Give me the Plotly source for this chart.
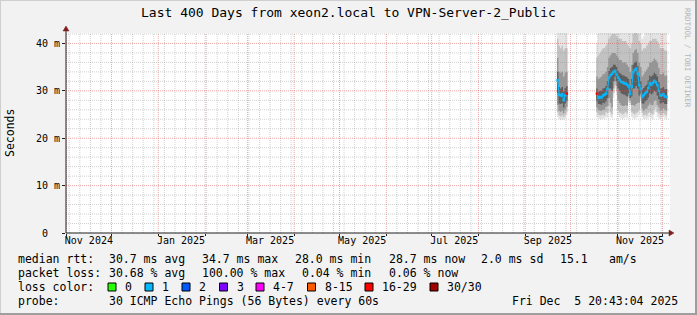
import plotly.graph_objects as go
from datetime import datetime, timedelta

# ---------------- data ----------------
days = [
    "2025-09-22", "2025-09-23", "2025-09-24", "2025-09-25", "2025-09-26", "2025-09-27", "2025-09-28",
    "2025-10-18", "2025-10-19", "2025-10-20", "2025-10-21", "2025-10-22", "2025-10-23", "2025-10-24",
    "2025-10-25", "2025-10-26", "2025-10-27", "2025-10-28", "2025-10-29", "2025-10-30", "2025-10-31",
    "2025-11-01", "2025-11-02", "2025-11-03", "2025-11-04", "2025-11-05", "2025-11-06", "2025-11-07",
    "2025-11-08", "2025-11-09", "2025-11-10", "2025-11-11", "2025-11-12", "2025-11-13", "2025-11-14",
    "2025-11-15", "2025-11-16", "2025-11-17", "2025-11-18", "2025-11-19", "2025-11-20", "2025-11-21",
    "2025-11-22", "2025-11-23", "2025-11-24", "2025-11-25", "2025-11-26", "2025-11-27", "2025-11-28",
    "2025-11-29", "2025-11-30", "2025-12-01", "2025-12-02", "2025-12-03",
]

median_ms = [
    32.2, 29.2, 29.0, 29.3, 28.0, 29.1, 29.4,
    29.4, 28.5, 28.7, 28.6, 29.0, 29.2, 29.4, 30.4, 32.8, 33.3, 33.6, 34.0, 34.2, 33.4,
    32.8, 32.3, 31.9, 31.8, 31.6, 31.5, 31.3, 30.9, 29.3, 30.9, 33.9, 34.4, 34.7, 33.6, 31.2,
    30.4, 28.7, 29.1, 29.5, 29.8, 30.6, 31.6, 31.3, 31.7, 32.1, 31.8, 31.2, 30.0, 29.0, 29.1,
    29.3, 28.8, 28.7,
]

loss_pct = [
    0.08, 0.05, 0.06, 0.05, 0.07, 0.06, 62.0,
    58.0, 0.07, 0.05, 0.04, 0.06, 0.05, 0.08, 0.06, 0.05, 0.07, 0.06, 0.05, 0.04, 0.06,
    0.05, 0.06, 0.07, 0.05, 0.04, 0.06, 0.05, 0.08, 0.06, 0.05, 0.07, 0.06, 0.05, 0.04, 0.06,
    0.05, 0.06, 0.07, 0.05, 0.04, 0.06, 0.05, 0.06, 0.05, 0.07, 0.06, 0.05, 0.04, 0.06, 0.05,
    0.06, 0.05, 0.06,
]

# smoke bands (ms): outer -> inner, lower and upper edges
smoke_lo = [
    24.5, 24.0, 23.8, 24.0, 23.8, 24.2, 24.8,
    24.5, 24.2, 24.0, 24.0, 24.2, 24.0, 24.5, 24.3, 25.5, 24.5, 24.2, 28.5, 30.5, 29.0,
    25.0, 24.5, 24.2, 24.0, 24.2, 24.5, 24.2, 27.5, 27.0, 24.5, 24.2, 24.0, 24.3, 24.5, 25.0,
    28.0, 24.5, 24.0, 24.2, 24.0, 24.3, 24.5, 24.2, 24.0, 25.0, 25.5, 24.5, 24.2, 24.0, 24.3,
    24.5, 24.2, 24.0,
]
smoke_l2 = [
    25.5, 24.8, 24.6, 24.8, 24.5, 25.0, 25.6,
    25.5, 25.0, 24.8, 24.8, 25.0, 24.8, 25.5, 25.3, 26.8, 25.5, 25.0, 29.5, 31.2, 30.0,
    26.0, 25.5, 25.2, 25.0, 25.2, 25.5, 25.2, 28.2, 27.5, 25.5, 25.2, 25.0, 25.3, 25.5, 26.0,
    28.5, 25.3, 24.8, 25.0, 24.8, 25.3, 25.5, 25.2, 25.0, 26.0, 26.5, 25.5, 25.2, 24.8, 25.0,
    25.3, 25.0, 24.8,
]
smoke_l3 = [
    27.0, 25.8, 25.6, 25.8, 25.3, 26.0, 26.6,
    26.5, 26.0, 25.8, 25.8, 26.0, 26.0, 26.6, 26.8, 28.5, 27.5, 26.5, 30.5, 32.0, 31.0,
    28.0, 27.5, 27.0, 26.8, 26.8, 27.0, 26.8, 28.8, 28.0, 27.0, 27.0, 26.8, 27.2, 27.5, 27.5,
    29.0, 26.2, 25.8, 26.2, 26.2, 26.8, 27.3, 27.0, 27.0, 27.8, 28.0, 27.0, 26.5, 25.8, 26.0,
    26.3, 26.0, 25.8,
]
smoke_l4 = [
    29.5, 27.3, 27.2, 27.4, 26.5, 27.3, 27.8,
    27.8, 27.2, 27.2, 27.0, 27.5, 27.4, 27.8, 28.5, 30.5, 30.5, 30.0, 32.0, 33.0, 32.0,
    30.5, 30.0, 29.5, 29.3, 29.2, 29.0, 28.8, 29.5, 28.5, 28.8, 30.5, 30.5, 31.0, 30.5, 29.0,
    29.5, 27.3, 27.3, 27.8, 28.0, 28.6, 29.5, 29.2, 29.5, 30.0, 29.8, 29.0, 28.2, 27.3, 27.4,
    27.6, 27.2, 27.2,
]
smoke_h4 = [
    34.0, 30.8, 30.5, 30.8, 29.8, 30.6, 31.0,
    30.5, 29.8, 30.0, 30.0, 30.5, 30.6, 31.0, 32.0, 34.2, 34.8, 35.0, 35.5, 35.5, 35.0,
    34.2, 33.8, 33.5, 33.3, 33.2, 33.0, 32.8, 32.5, 31.0, 32.5, 35.5, 36.0, 36.2, 35.2, 33.0,
    32.0, 30.2, 30.6, 31.0, 31.3, 32.2, 33.2, 33.0, 33.3, 33.8, 33.5, 33.0, 31.8, 30.5, 30.6,
    30.8, 30.3, 30.4,
]
smoke_h3 = [
    37.0, 34.0, 33.8, 34.0, 33.0, 33.8, 34.0,
    33.0, 32.5, 32.8, 33.0, 33.5, 33.6, 34.0, 35.0, 37.0, 37.5, 38.0, 38.0, 38.0, 37.5,
    37.0, 36.5, 36.5, 36.0, 36.0, 36.0, 35.5, 35.0, 34.0, 35.5, 38.0, 38.5, 38.8, 38.0, 36.0,
    35.0, 33.0, 33.5, 34.0, 34.5, 35.0, 36.0, 36.0, 36.3, 36.8, 36.5, 36.0, 34.8, 33.5, 33.5,
    33.8, 33.2, 33.3,
]
smoke_h2 = [
    41.0, 39.5, 39.0, 39.5, 38.5, 39.0, 39.0,
    37.0, 37.5, 38.0, 38.5, 39.0, 39.0, 39.5, 40.0, 41.0, 41.5, 42.0, 42.0, 42.0, 41.5,
    41.0, 41.0, 41.0, 40.5, 40.5, 40.5, 40.0, 39.5, 39.0, 40.0, 42.0, 42.5, 42.5, 42.0, 40.5,
    40.0, 38.5, 39.0, 39.0, 39.5, 40.0, 40.5, 40.5, 41.0, 41.0, 41.0, 40.5, 40.0, 39.0, 39.0,
    39.0, 38.5, 38.5,
]
smoke_hi = [
    44.0, 44.0, 44.0, 44.0, 44.0, 44.0, 44.0,
    40.0, 44.0, 44.0, 44.0, 44.0, 44.0, 44.0, 44.0, 44.0, 44.0, 44.0, 44.0, 44.0, 44.0,
    44.0, 44.0, 44.0, 44.0, 44.0, 44.0, 44.0, 44.0, 44.0, 44.0, 44.0, 44.0, 44.0, 44.0, 44.0,
    44.0, 41.0, 41.5, 44.0, 44.0, 44.0, 44.0, 44.0, 44.0, 44.0, 44.0, 44.0, 44.0, 44.0, 44.0,
    44.0, 44.0, 44.0,
]

loss_buckets = ["0", "1", "2", "3", "4-7", "8-15", "16-29", "30/30"]
loss_upper = [0, 1, 2, 3, 7, 15, 29, 30]          # pings out of 30
loss_colors = ["#26ff00", "#00b8ff", "#0059ff", "#7e00ff", "#ff00ff", "#ff5a00", "#ff0000", "#a00000"]

x_label_dates = ["2024-11-16", "2025-01-16", "2025-03-16", "2025-05-16", "2025-07-16", "2025-09-16", "2025-11-16"]
x_label_text = ["Nov 2024", "Jan 2025", "Mar 2025", "May 2025", "Jul 2025", "Sep 2025", "Nov 2025"]
y_tick_vals = [0, 10, 20, 30, 40]
y_tick_text = ["0\u00a0\u00a0", "10 m", "20 m", "30 m", "40 m"]

title = "Last 400 Days from xeon2.local to VPN-Server-2_Public"
range_start = "2024-10-31 20:43:04"
range_end = "2025-12-05 20:43:04"

# ---------------- layout helpers ----------------
W, H = 697, 315
PL, PR, PT, PB = 66, 670, 33, 233
Y_MAX = 42.2
FONT = "DejaVu Sans Mono"


def xp(px):
    return (px - PL) / (PR - PL)


def yp(py):
    return (PB - py) / (PB - PT)


def nb(s):
    return s.replace(" ", "\u00a0")


dts = [datetime.strptime(d, "%Y-%m-%d") for d in days]

# split into contiguous segments
segments = []
cur = [0]
for i in range(1, len(dts)):
    if (dts[i] - dts[i - 1]).days > 1:
        segments.append(cur)
        cur = []
    cur.append(i)
segments.append(cur)

fig = go.Figure()

band_defs = [
    (smoke_lo, smoke_hi, "#e4e4e4"),
    (smoke_l2, smoke_h2, "#c2c2c2"),
    (smoke_l3, smoke_h3, "#969696"),
    (smoke_l4, smoke_h4, "#5e5e5e"),
]

for seg in segments:
    xs = [dts[i] for i in seg] + [dts[seg[-1]] + timedelta(days=1)]
    for lo, hi, col in band_defs:
        ylo = [lo[i] for i in seg] + [lo[seg[-1]]]
        yhi = [hi[i] for i in seg] + [hi[seg[-1]]]
        fig.add_trace(go.Scatter(x=xs, y=ylo, mode="lines", line=dict(width=0, shape="hv"),
                                 hoverinfo="skip", showlegend=False))
        fig.add_trace(go.Scatter(x=xs, y=yhi, mode="lines", line=dict(width=0, shape="hv"),
                                 fill="tonexty", fillcolor=col, hoverinfo="skip", showlegend=False))

# median line
for seg in segments:
    xm = [dts[i] + timedelta(hours=12) for i in seg]
    ym = [median_ms[i] for i in seg]
    fig.add_trace(go.Scatter(x=xm, y=ym, mode="lines", line=dict(color="#00b8ff", width=1.2),
                             hoverinfo="skip", showlegend=False))


def bucket_color(p):
    n = p / 100.0 * 30
    for up, c in zip(loss_upper, loss_colors):
        if n <= up:
            return c
    return loss_colors[-1]


fig.add_trace(go.Scatter(
    x=[d + timedelta(hours=12) for d in dts], y=median_ms, mode="markers",
    marker=dict(symbol="square", size=2.6, color=[bucket_color(p) for p in loss_pct], line=dict(width=0)),
    hoverinfo="skip", showlegend=False))

# dummy trace to activate label axis
fig.add_trace(go.Scatter(x=[range_start], y=[0], xaxis="x2", mode="markers",
                         marker=dict(opacity=0), hoverinfo="skip", showlegend=False))

# ---------------- grid (drawn above data like rrdtool) ----------------
shapes = []
GRID = "rgba(143,143,143,0.42)"
MGRID = "rgba(222,79,79,0.5)"
DASH = "1px,1px"

start_dt = datetime.strptime(range_start, "%Y-%m-%d %H:%M:%S")
end_dt = datetime.strptime(range_end, "%Y-%m-%d %H:%M:%S")

month_lines = []
y_, m_ = 2024, 11
while True:
    d = datetime(y_, m_, 1)
    if d > end_dt:
        break
    if d > start_dt:
        month_lines.append(d)
    m_ += 1
    if m_ > 12:
        m_ = 1
        y_ += 1

w = datetime(2024, 11, 3)
while w < end_dt:
    if w > start_dt and all(abs((w - m).total_seconds()) > 86400 * 0.5 for m in month_lines):
        shapes.append(dict(type="line", xref="x", yref="paper", x0=w, x1=w, y0=0, y1=1,
                           line=dict(color=GRID, width=1, dash=DASH), layer="above"))
    w += timedelta(days=7)

for m in month_lines:
    shapes.append(dict(type="line", xref="x", yref="paper", x0=m, x1=m, y0=0, y1=1,
                       line=dict(color=MGRID, width=1, dash=DASH), layer="above"))

for v in range(2, 43, 2):
    col = MGRID if v % 10 == 0 else GRID
    shapes.append(dict(type="line", xref="paper", yref="y", x0=0, x1=1, y0=v, y1=v,
                       line=dict(color=col, width=1, dash=DASH), layer="above"))

AXIS = "#1f1f1f"
ARROW = "#801f1f"
# axis lines + arrows
shapes.append(dict(type="line", xref="paper", yref="paper", x0=xp(PL), x1=xp(672), y0=0, y1=0,
                   line=dict(color=AXIS, width=1), layer="above"))
shapes.append(dict(type="line", xref="paper", yref="paper", x0=0, x1=0, y0=yp(PB), y1=yp(29),
                   line=dict(color=AXIS, width=1), layer="above"))
shapes.append(dict(type="path", xref="paper", yref="paper",
                   path=f"M {xp(674)} {yp(233)} L {xp(669)} {yp(230)} L {xp(669)} {yp(236)} Z",
                   fillcolor=ARROW, line=dict(color=ARROW, width=0.5), layer="above"))
shapes.append(dict(type="path", xref="paper", yref="paper",
                   path=f"M {xp(66)} {yp(26)} L {xp(63)} {yp(31)} L {xp(69)} {yp(31)} Z",
                   fillcolor=ARROW, line=dict(color=ARROW, width=0.5), layer="above"))

# frame shading
shapes.append(dict(type="line", xref="paper", yref="paper", x0=xp(0), x1=xp(697), y0=yp(0.5), y1=yp(0.5),
                   line=dict(color="#cfcfcf", width=1), layer="below"))
shapes.append(dict(type="line", xref="paper", yref="paper", x0=xp(0.5), x1=xp(0.5), y0=yp(0), y1=yp(315),
                   line=dict(color="#cfcfcf", width=1), layer="below"))
shapes.append(dict(type="line", xref="paper", yref="paper", x0=xp(0), x1=xp(697), y0=yp(314), y1=yp(314),
                   line=dict(color="#9e9e9e", width=2), layer="below"))
shapes.append(dict(type="line", xref="paper", yref="paper", x0=xp(696), x1=xp(696), y0=yp(0), y1=yp(315),
                   line=dict(color="#9e9e9e", width=2), layer="below"))

# ---------------- text ----------------
ann = []


def add_text(px, py, text, size=11.5, anchor="left", color="#000000", angle=0):
    ann.append(dict(xref="paper", yref="paper", x=xp(px), y=yp(py), text=nb(text), showarrow=False,
                    xanchor=anchor, yanchor="middle", textangle=angle,
                    font=dict(family=FONT, size=size, color=color)))


add_text(348, 13, title, size=13, anchor="center")
add_text(10, 133, "Seconds", size=11.5, anchor="center", angle=-90)
add_text(688, 58, "RRDTOOL / TOBI OETIKER", size=7.5, anchor="center", color="#b4b4b4", angle=90)

row1 = [(16, "median rtt:"), (107, "30.7 ms avg"), (200, "34.7 ms max"), (293, "28.0 ms min"),
        (386.7, "28.7 ms now"), (479, "2.0 ms sd"), (558, "15.1"), (606.7, "am/s")]
row2 = [(16, "packet loss:"), (107, "30.68 % avg"), (200, "100.00 % max"), (300, "0.04 % min"),
        (386.7, "0.06 % now")]
for x_, t_ in row1:
    add_text(x_, 259, t_)
for x_, t_ in row2:
    add_text(x_, 273, t_)
add_text(16, 287, "loss color:")
box_x = [108, 145, 182, 219.5, 256, 307.5, 365, 430]
for bx, lab, col in zip(box_x, loss_buckets, loss_colors):
    shapes.append(dict(type="rect", xref="paper", yref="paper", x0=xp(bx), x1=xp(bx + 8),
                       y0=yp(291), y1=yp(283), fillcolor=col, line=dict(color="#000000", width=1)))
    add_text(bx + 15, 287, lab)
add_text(16, 301, "probe:")
add_text(107, 301, "30 ICMP Echo Pings (56 Bytes) every 60s")
add_text(680, 301, "Fri Dec  5 20:43:04 2025", anchor="right")

fig.update_layout(
    width=W, height=H,
    margin=dict(l=PL, r=W - PR, t=PT, b=H - PB, pad=0),
    paper_bgcolor="#f2f2f2", plot_bgcolor="#ffffff",
    font=dict(family=FONT, size=10, color="#000000"),
    showlegend=False,
    xaxis=dict(type="date", range=[range_start, range_end], showgrid=False, zeroline=False,
               showticklabels=False, ticks="outside", ticklen=2, tickcolor=AXIS,
               dtick="M1", tick0="2024-11-01", showline=False, fixedrange=True),
    xaxis2=dict(type="date", overlaying="x", anchor="y", side="bottom",
                range=[range_start, range_end], tickmode="array", tickvals=x_label_dates,
                ticktext=x_label_text, showgrid=False, zeroline=False, ticks="", showline=False,
                tickfont=dict(family=FONT, size=10, color="#000000"), fixedrange=True),
    yaxis=dict(range=[0, Y_MAX], tickmode="array", tickvals=y_tick_vals, ticktext=y_tick_text,
               showgrid=False, zeroline=False, showline=False, ticks="outside", ticklen=3,
               tickcolor=AXIS, tickfont=dict(family=FONT, size=10, color="#000000"), fixedrange=True),
    shapes=shapes,
    annotations=ann,
)

fig.write_html("out.html")
